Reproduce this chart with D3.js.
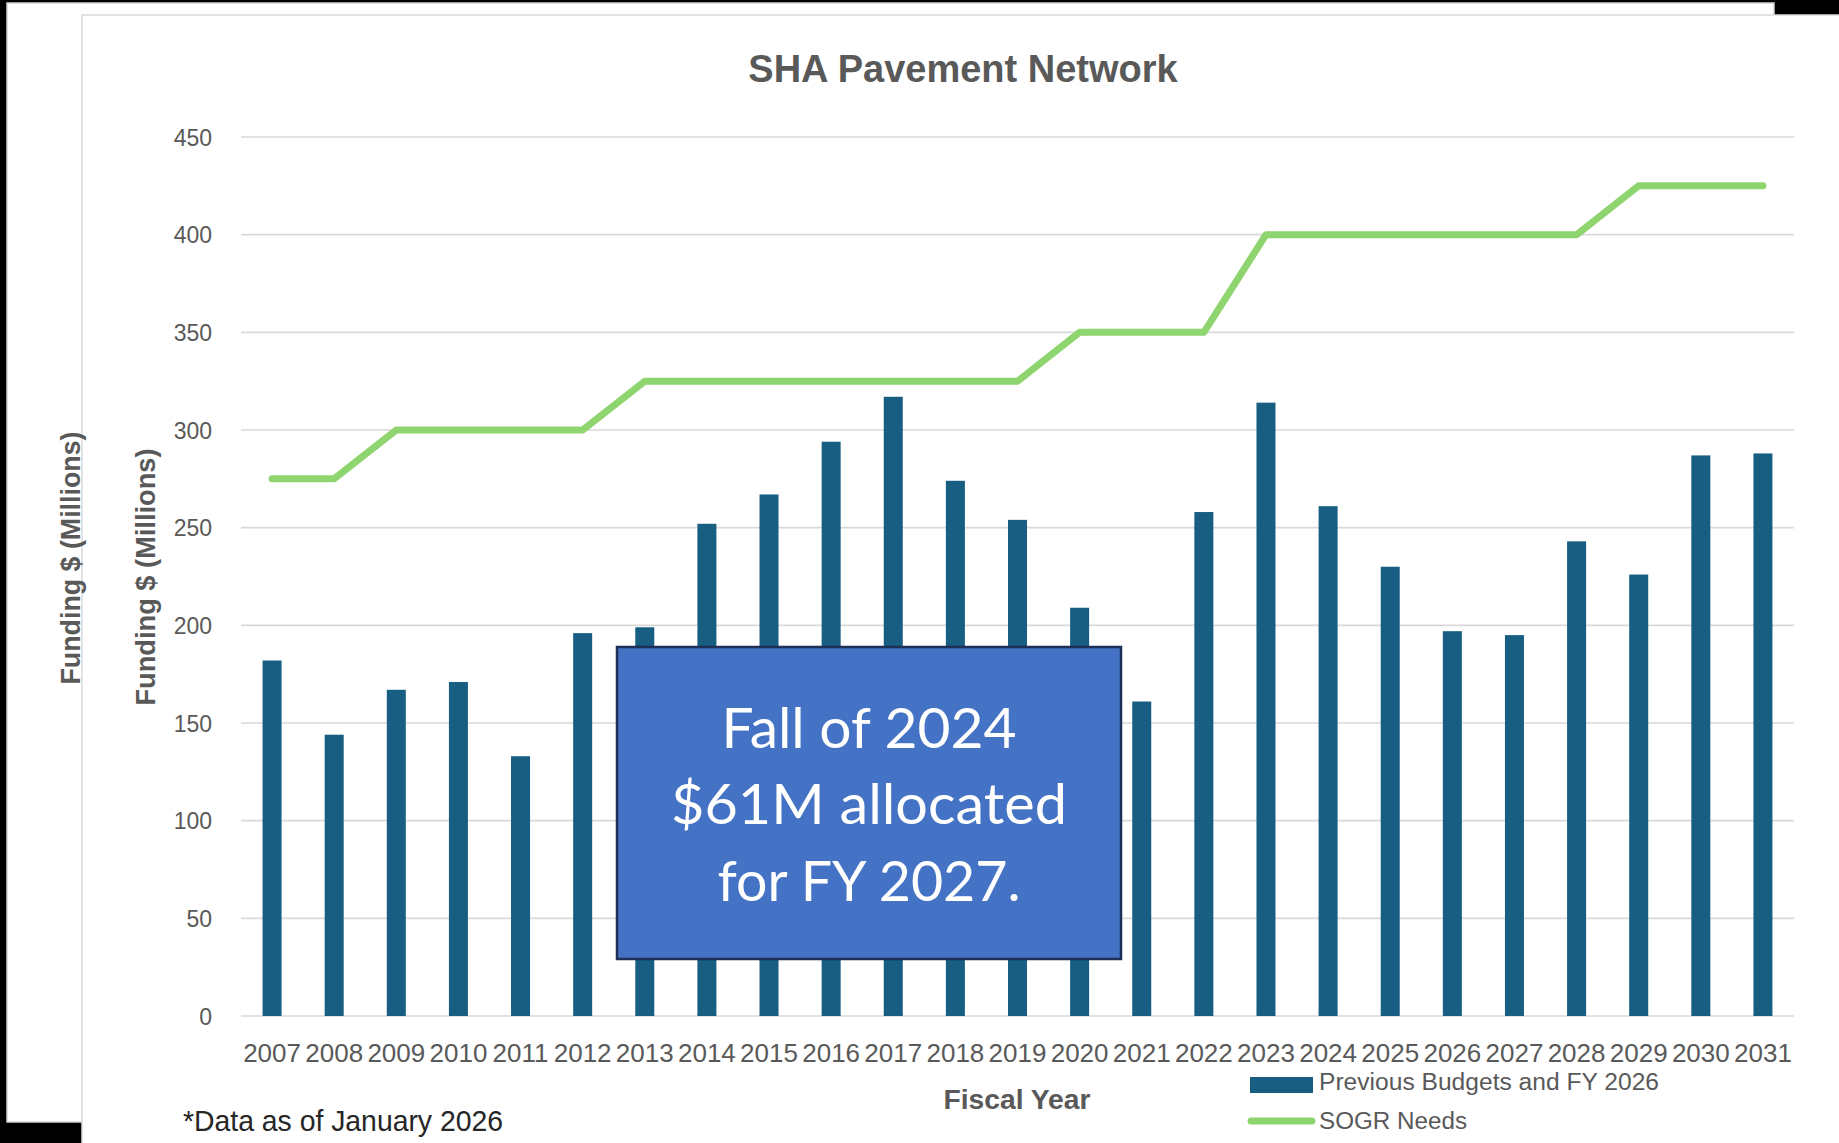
<!DOCTYPE html>
<html>
<head>
<meta charset="utf-8">
<script src="https://cdn.jsdelivr.net/npm/d3@7"></script>
<style>
  html, body { margin: 0; padding: 0; background: #000; }
  svg { display: block; }
</style>
</head>
<body>
<svg id="chart" width="1839" height="1143"></svg>
<script>
// ---------- DATA ----------
const years = ["2007","2008","2009","2010","2011","2012","2013","2014","2015","2016","2017","2018","2019","2020","2021","2022","2023","2024","2025","2026","2027","2028","2029","2030","2031"];
const budgets = [182, 144, 167, 171, 133, 196, 199, 252, 267, 294, 317, 274, 254, 209, 161, 258, 314, 261, 230, 197, 195, 243, 226, 287, 288];
const needs = [275, 275, 300, 300, 300, 300, 325, 325, 325, 325, 325, 325, 325, 350, 350, 350, 400, 400, 400, 400, 400, 400, 425, 425, 425];
const yTicks = [0, 50, 100, 150, 200, 250, 300, 350, 400, 450];
const titleText = "SHA Pavement Network";
const yAxisTitle = "Funding $ (Millions)";
const xAxisTitle = "Fiscal Year";
const footnote = "*Data as of January 2026";
const legendLabels = ["Previous Budgets and FY 2026", "SOGR Needs"];
const noteLines = ["Fall of 2024", "$61M allocated", "for FY 2027."];

// ---------- STYLE ----------
const barColor = "#175e82";
const lineColor = "#8ed46f";
const textGray = "#595959";
const gridColor = "#d9d9d9";
const font = "'Liberation Sans', Arial, sans-serif";

const svg = d3.select("#chart");

// backgrounds / panels
svg.append("rect").attr("x", 0).attr("y", 0).attr("width", 1839).attr("height", 1143).attr("fill", "#000");
svg.append("rect").attr("x", 7).attr("y", 3).attr("width", 1767).attr("height", 1119)
  .attr("fill", "#fff").attr("stroke", "#d4d4d4").attr("stroke-width", 1.5);
svg.append("rect").attr("x", 82).attr("y", 15).attr("width", 1800).attr("height", 1200)
  .attr("fill", "#fff").attr("stroke", "#d9d9d9").attr("stroke-width", 1.5);

// outer (background copy) axis title
svg.append("text")
  .attr("transform", "translate(80,558) rotate(-90)")
  .attr("text-anchor", "middle")
  .attr("font-family", font).attr("font-weight", "bold").attr("font-size", 27)
  .attr("fill", textGray)
  .attr("textLength", 253).attr("lengthAdjust", "spacingAndGlyphs")
  .text(yAxisTitle);

// ---------- SCALES ----------
const x = d3.scaleBand().domain(years).range([241, 1794]).paddingInner(0.694).paddingOuter(0.347);
const y = d3.scaleLinear().domain([0, 450]).range([1016, 137]);

// gridlines
svg.append("g").selectAll("line").data(yTicks).join("line")
  .attr("x1", 241).attr("x2", 1794)
  .attr("y1", d => y(d)).attr("y2", d => y(d))
  .attr("stroke", gridColor).attr("stroke-width", 1.6);

// y axis labels
const yAxis = d3.axisLeft(y).tickValues(yTicks).tickSize(0).tickPadding(0);
const gy = svg.append("g").attr("transform", "translate(212,0)").call(yAxis);
gy.select(".domain").remove();
gy.selectAll("text").attr("font-family", font).attr("font-size", 23).attr("fill", textGray).attr("dy", "0.35em");

// x axis labels
const xAxis = d3.axisBottom(x).tickSize(0).tickPadding(0);
const gx = svg.append("g").attr("transform", "translate(0,1043)").call(xAxis);
gx.select(".domain").remove();
gx.selectAll("text").attr("font-family", font).attr("font-size", 26).attr("fill", textGray).attr("dy", "0.72em");

// bars
svg.append("g").selectAll("rect").data(years).join("rect")
  .attr("x", d => x(d))
  .attr("width", x.bandwidth())
  .attr("y", (d, i) => y(budgets[i]))
  .attr("height", (d, i) => y(0) - y(budgets[i]))
  .attr("fill", barColor);

// needs line
const line = d3.line().x((d, i) => x(years[i]) + x.bandwidth() / 2).y(d => y(d));
svg.append("path").datum(needs)
  .attr("d", line)
  .attr("fill", "none").attr("stroke", lineColor).attr("stroke-width", 7)
  .attr("stroke-linecap", "round").attr("stroke-linejoin", "round");

// title
svg.append("text").attr("x", 963).attr("y", 82).attr("text-anchor", "middle")
  .attr("font-family", font).attr("font-weight", "bold").attr("font-size", 38)
  .attr("fill", textGray).text(titleText);

// inner y-axis title
svg.append("text")
  .attr("transform", "translate(155,577) rotate(-90)")
  .attr("text-anchor", "middle")
  .attr("font-family", font).attr("font-weight", "bold").attr("font-size", 27)
  .attr("fill", textGray)
  .attr("textLength", 257).attr("lengthAdjust", "spacingAndGlyphs")
  .text(yAxisTitle);

// x-axis title
svg.append("text").attr("x", 1017).attr("y", 1109).attr("text-anchor", "middle")
  .attr("font-family", font).attr("font-weight", "bold").attr("font-size", 27)
  .attr("fill", textGray).attr("textLength", 147).attr("lengthAdjust", "spacingAndGlyphs")
  .text(xAxisTitle);

// footnote
svg.append("text").attr("x", 183).attr("y", 1131)
  .attr("font-family", font).attr("font-size", 30)
  .attr("fill", "#262626").attr("textLength", 320).attr("lengthAdjust", "spacingAndGlyphs")
  .text(footnote);

// legend
svg.append("rect").attr("x", 1250).attr("y", 1077).attr("width", 63).attr("height", 16).attr("fill", barColor);
svg.append("text").attr("x", 1319).attr("y", 1090)
  .attr("font-family", font).attr("font-size", 23).attr("fill", textGray)
  .attr("textLength", 340).attr("lengthAdjust", "spacingAndGlyphs")
  .text(legendLabels[0]);
svg.append("line").attr("x1", 1251).attr("x2", 1312).attr("y1", 1121).attr("y2", 1121)
  .attr("stroke", lineColor).attr("stroke-width", 7).attr("stroke-linecap", "round");
svg.append("text").attr("x", 1319).attr("y", 1129)
  .attr("font-family", font).attr("font-size", 23).attr("fill", textGray)
  .attr("textLength", 148).attr("lengthAdjust", "spacingAndGlyphs")
  .text(legendLabels[1]);

// annotation box
svg.append("rect").attr("x", 617).attr("y", 647).attr("width", 504).attr("height", 312)
  .attr("fill", "#4472c4").attr("stroke", "#1f2f55").attr("stroke-width", 2.5);
const noteBaselines = [748, 824, 901];
const noteWidths = [295, 396, 303];
svg.append("g").selectAll("text").data(noteLines).join("text")
  .attr("x", 869).attr("y", (d, i) => noteBaselines[i])
  .attr("text-anchor", "middle")
  .attr("font-family", "Lato, 'Open Sans', sans-serif").attr("font-size", 57)
  .attr("fill", "#fff")
  .attr("textLength", (d, i) => noteWidths[i]).attr("lengthAdjust", "spacingAndGlyphs")
  .text(d => d);
</script>
</body>
</html>
